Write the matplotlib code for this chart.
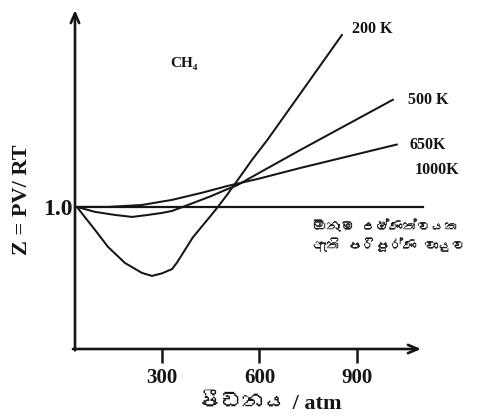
import matplotlib
matplotlib.use("Agg")
import matplotlib.pyplot as plt
from matplotlib import font_manager
from matplotlib.ft2font import FT2Font

# ---- data ----
p_200 = [38, 94, 134, 186, 238, 269, 300, 331, 346, 395, 448, 472, 500, 540, 577, 623, 725, 854]
z_200 = [1.0, 0.856, 0.75, 0.65, 0.588, 0.569, 0.585, 0.612, 0.652, 0.81, 0.94, 1.0,
         1.075, 1.188, 1.294, 1.415, 1.706, 2.075]

p_500 = [38, 94, 155, 208, 257, 300, 331, 377, 448, 500, 531, 601, 725, 1011]
z_500 = [1.0, 0.969, 0.95, 0.9375, 0.95, 0.9625, 0.975, 1.01, 1.065, 1.11, 1.135, 1.215,
         1.355, 1.67]

p_650 = [38, 134, 238, 331, 395, 426, 500, 601, 725, 1023]
z_650 = [1.0, 1.0, 1.012, 1.044, 1.075, 1.09, 1.13, 1.178, 1.243, 1.39]

p_ideal = [38, 1103]
z_ideal = [1.0, 1.0]

x_ticks = [300, 600, 900]
x_tick_labels = ["300", "600", "900"]
y_ticks = [1.0]
y_tick_labels = ["1.0"]

temp_labels = ["200 K", "500 K", "650K", "1000K"]
gas_label = "CH\u2084"
ideal_label = "ඕනෑම උෂ්ණත්වයක\nඇති පරිපූර්ණ වායුව"
x_label = "පීඩනය / atm"
y_label = "Z = PV/ RT"

# ---- find a font with Sinhala glyphs, if any ----
sinhala_family = None
seen = set()
for f in font_manager.fontManager.ttflist:
    if f.fname in seen:
        continue
    seen.add(f.fname)
    try:
        cmap = FT2Font(f.fname).get_charmap()
    except Exception:
        continue
    if 0x0DB4 in cmap and 0x0DCF in cmap:
        sinhala_family = f.name
        break

serif = "Liberation Serif"
sin_fam = ([sinhala_family] if sinhala_family else []) + [serif, "DejaVu Sans"]
mixed_fam = [serif] + ([sinhala_family] if sinhala_family else []) + ["DejaVu Sans"]

W, H = 485, 418
fig = plt.figure(figsize=(W / 100, H / 100), dpi=100)
fig.patch.set_facecolor("white")

ax_l, ax_r, ax_b, ax_t = 75, 421, 349, 10
ax = fig.add_axes([ax_l / W, 1 - ax_b / H, (ax_r - ax_l) / W, (ax_b - ax_t) / H])
ax.set_xlim(32.3, 1097)
ax.set_ylim(0.1125, 2.23)

lc = "#151515"
lw = 1.45
for px, pz in [(p_200, z_200), (p_500, z_500), (p_650, z_650)]:
    ax.plot(px, pz, color=lc, lw=lw, clip_on=False, solid_joinstyle="round",
            solid_capstyle="round")
ax.plot(p_ideal, z_ideal, color=lc, lw=1.6, clip_on=False)

for s in ax.spines.values():
    s.set_visible(False)

arrow = dict(arrowstyle="->,head_length=0.7,head_width=0.3", lw=1.9, color=lc,
             shrinkA=0, shrinkB=0)
ax.annotate("", xy=(1, 0), xytext=(-0.006, 0), xycoords="axes fraction", arrowprops=arrow)
ax.annotate("", xy=(0, 1), xytext=(0, -0.004), xycoords="axes fraction", arrowprops=arrow)

ax.set_xticks(x_ticks)
ax.set_xticklabels(x_tick_labels, fontfamily=serif, fontweight="bold", fontsize=15)
ax.tick_params(axis="x", direction="out", length=10, width=1.8, color=lc, pad=4,
               labelcolor=lc)
ax.set_yticks(y_ticks)
ax.set_yticklabels(y_tick_labels, fontfamily=serif, fontweight="bold", fontsize=17)
ax.tick_params(axis="y", length=0, pad=2, labelcolor=lc)

fig.text(22 / W, 1 - 200 / H, y_label, rotation=90, ha="center", va="center",
         fontfamily=serif, fontweight="bold", fontsize=16, color=lc)
fig.text(270 / W, 1 - 404 / H, x_label, ha="center", va="center",
         fontfamily=mixed_fam, fontweight="bold", fontsize=16, color=lc)

fig.text(170 / W, 1 - 63 / H, gas_label, ha="left", va="center",
         fontfamily=[serif, "DejaVu Serif"], fontweight="bold", fontsize=11, color=lc)

pos = [(352, 29), (408, 100), (410, 145), (415, 170)]
for lab, (px, py) in zip(temp_labels, pos):
    fig.text(px / W, 1 - py / H, lab, ha="left", va="center",
             fontfamily=serif, fontweight="bold", fontsize=11.5, color=lc)

fig.text(313 / W, 1 - 236 / H, ideal_label, ha="left", va="center",
         fontfamily=sin_fam, fontsize=10, color=lc, linespacing=1.35)

fig.savefig("out.png", dpi=100, facecolor="white")
